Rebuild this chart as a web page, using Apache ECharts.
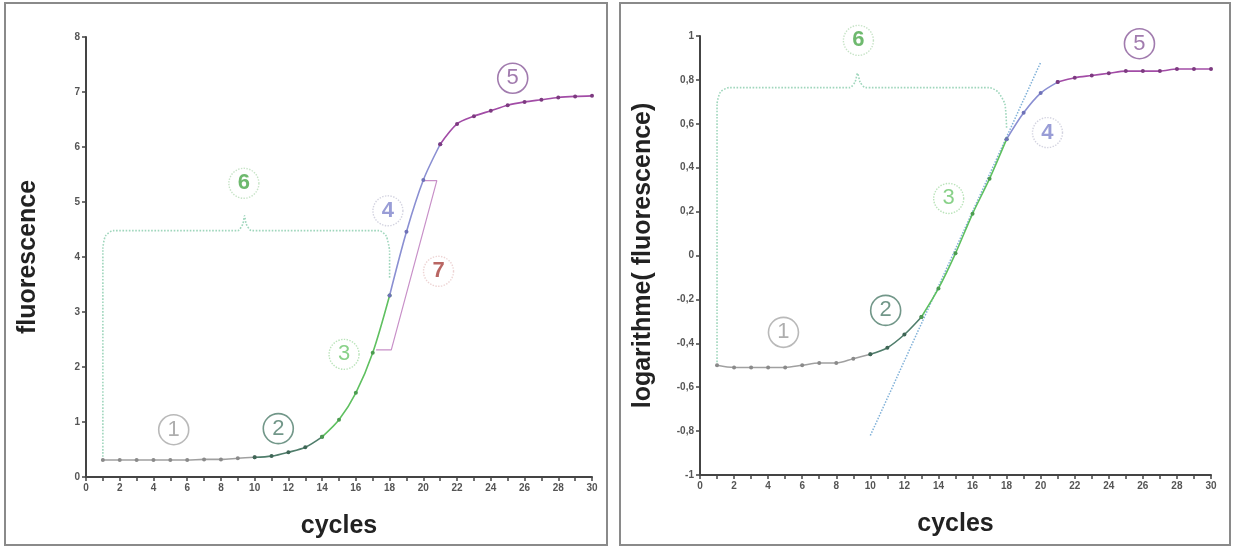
<!DOCTYPE html>
<html>
<head>
<meta charset="utf-8">
<script src="https://cdn.jsdelivr.net/npm/echarts@6/dist/echarts.min.js"></script>
<style>
html,body{margin:0;padding:0;background:#fff;}
#c{width:1235px;height:550px;}
</style>
</head>
<body>
<div id="c"></div>
<script>
// ---- data ----
var cycles = [1,2,3,4,5,6,7,8,9,10,11,12,13,14,15,16,17,18,19,20,21,22,23,24,25,26,27,28,29,30];
var fluorescence = [0.31,0.31,0.31,0.31,0.31,0.31,0.32,0.32,0.34,0.36,0.38,0.45,0.54,0.73,1.04,1.53,2.26,3.30,4.46,5.40,6.05,6.42,6.56,6.66,6.76,6.82,6.86,6.90,6.92,6.93];
var logFluorescence = [-0.50,-0.51,-0.51,-0.51,-0.51,-0.50,-0.49,-0.49,-0.47,-0.45,-0.42,-0.36,-0.28,-0.15,0.01,0.19,0.35,0.53,0.65,0.74,0.79,0.81,0.82,0.83,0.84,0.84,0.84,0.85,0.85,0.85];
var xTicks = [0,2,4,6,8,10,12,14,16,18,20,22,24,26,28,30];
var leftYTicks = ['0','1','2','3','4','5','6','7','8'];
var rightYTicks = ['-1','-0,8','-0,6','-0,4','-0,2','0','0,2','0,4','0,6','0,8','1'];
// phase boundaries (cycle numbers)
var leftPhases = [1,10,14,18,21,30];
var rightPhases = [1,10,13,18,21,30];
var phaseColors = ['#a0a0a0','#4f7d6b','#5fc060','#8a8fd2','#a24ca6'];
var markerColors = ['#8a8a8a','#3e6656','#4c9c50','#6f72b8','#7d3a80'];
// annotations (data coordinates)
var leftLabels = [
  {t:'1', x:5.2, y:0.86, c:'#9a9a9a', b:'#a8a8a8', bt:'solid', w:'normal'},
  {t:'2', x:11.4, y:0.88, c:'#4f7d6b', b:'#4f7d6b', bt:'solid', w:'normal'},
  {t:'3', x:15.3, y:2.23, c:'#6cc56c', b:'#a8dca8', bt:'dotted', w:'normal'},
  {t:'4', x:17.9, y:4.84, c:'#7f84cc', b:'#c8c8d8', bt:'dotted', w:'bold'},
  {t:'5', x:25.3, y:7.25, c:'#8a5a9a', b:'#8a5a9a', bt:'solid', w:'normal'},
  {t:'6', x:9.36, y:5.34, c:'#4aa84a', b:'#b8dcb8', bt:'dotted', w:'bold'},
  {t:'7', x:20.9, y:3.74, c:'#a8403c', b:'#e8c8c8', bt:'dotted', w:'bold'}
];
var rightLabels = [
  {t:'1', x:4.9, y:-0.35, c:'#9a9a9a', b:'#a8a8a8', bt:'solid', w:'normal'},
  {t:'2', x:10.9, y:-0.25, c:'#4f7d6b', b:'#4f7d6b', bt:'solid', w:'normal'},
  {t:'3', x:14.6, y:0.26, c:'#6cc56c', b:'#a8dca8', bt:'dotted', w:'normal'},
  {t:'4', x:20.4, y:0.56, c:'#7f84cc', b:'#c8c8d8', bt:'dotted', w:'bold'},
  {t:'5', x:25.8, y:0.965, c:'#8a5a9a', b:'#8a5a9a', bt:'solid', w:'normal'},
  {t:'6', x:9.3, y:0.98, c:'#4aa84a', b:'#b8dcb8', bt:'dotted', w:'bold'}
];
var leftBrace = [[1,0.31],[1,4.15],[1.15,4.38],[1.6,4.48],[9.0,4.48],[9.3,4.6],[9.4,4.75],[9.5,4.6],[9.8,4.48],[17.4,4.48],[17.8,4.38],[18,4.1],[18,3.6]];
var rightBrace = [[1,-0.5],[1,0.69],[1.2,0.745],[1.7,0.765],[8.8,0.765],[9.1,0.79],[9.25,0.83],[9.4,0.79],[9.7,0.765],[17.0,0.765],[17.5,0.745],[17.9,0.69],[18,0.58]];
var bracket7 = [[17.2,2.31],[18.1,2.31],[20.8,5.39],[20.0,5.39]];
var tangent = [[10,-0.82],[20,0.88]];

// ---- chart ----
var chart = echarts.init(document.getElementById('c'), null, {renderer:'canvas'});
var FONT = '"Liberation Sans", Arial, sans-serif';

function pairs(xs, ys){ return xs.map(function(x,i){ return [x, ys[i]]; }); }

function segSeries(vals, phases, xi, yi){
  var out = [];
  var pts = pairs(cycles, vals);
  for (var p=0;p<5;p++){
    var seg = pts.filter(function(d){ return d[0]>=phases[p] && d[0]<=phases[p+1]; });
    out.push({
      type:'line', xAxisIndex:xi, yAxisIndex:yi, data:seg, smooth:0.3,
      symbol:'circle', symbolSize:4, showSymbol:true,
      lineStyle:{color:phaseColors[p], width:1.6},
      itemStyle:{color:markerColors[p]},
      z:5, silent:true, animation:false
    });
  }
  return out;
}

function labelSeries(list, xi, yi){
  return list.map(function(l){
    return {
      type:'scatter', xAxisIndex:xi, yAxisIndex:yi, data:[[l.x,l.y]],
      symbol:'circle', symbolSize:30, z:8, silent:true, animation:false,
      itemStyle:{color:'rgba(255,255,255,0.9)', borderColor:l.b, borderWidth:l.bt==='solid'?1.6:1.4, borderType:l.bt},
      label:{show:true, position:'inside', formatter:l.t, fontSize:22, fontFamily:FONT, fontWeight:l.w, color:l.c}
    };
  });
}

function dotted(points, xi, yi, color, width, type, smooth){
  return {type:'line', xAxisIndex:xi, yAxisIndex:yi, data:points, symbol:'none', smooth:smooth||false,
    lineStyle:{color:color, width:width, type:type}, z:3, silent:true, animation:false};
}

function xAxisCfg(gi){
  return {
    type:'value', gridIndex:gi, min:0, max:30, interval:2,
    name:'cycles', nameLocation:'middle', nameGap:37,
    nameTextStyle:{fontFamily:FONT, fontSize:25, fontWeight:'bold', color:'#222'},
    axisLine:{show:true, onZero:false, lineStyle:{color:'#444', width:2}},
    axisTick:{show:true, length:4, lineStyle:{color:'#444', width:1.5}},
    minorTick:{show:true, splitNumber:2, length:4, lineStyle:{color:'#444', width:1.5}},
    splitLine:{show:false},
    axisLabel:{fontFamily:FONT, fontSize:10, fontWeight:'bold', color:'#555', margin:6,
      formatter:function(v){ return xTicks.indexOf(v)>=0 ? String(v) : ''; }}
  };
}

var series = [];
series.push(dotted(leftBrace,0,0,'#9fd6bc',1.6,'dotted',0.2));
series.push(dotted(bracket7,0,0,'#c890c8',1.2,'solid'));
series = series.concat(segSeries(fluorescence, leftPhases, 0, 0));
series = series.concat(labelSeries(leftLabels, 0, 0));
series.push(dotted(rightBrace,1,1,'#9fd6bc',1.6,'dotted',0.2));
series.push(dotted(tangent,1,1,'#7fb0d8',1.5,'dotted'));
series = series.concat(segSeries(logFluorescence, rightPhases, 1, 1));
series = series.concat(labelSeries(rightLabels, 1, 1));

chart.setOption({
  backgroundColor:'#ffffff',
  animation:false,
  graphic:[
    {type:'rect', shape:{x:5, y:3, width:602, height:542}, style:{fill:'none', stroke:'#8a8a8a', lineWidth:2}, z:-1},
    {type:'rect', shape:{x:620, y:3, width:610, height:542}, style:{fill:'none', stroke:'#8a8a8a', lineWidth:2}, z:-1}
  ],
  grid:[
    {left:86, right:643, top:37, bottom:73},
    {left:700, right:24, top:36, bottom:75}
  ],
  xAxis:[xAxisCfg(0), xAxisCfg(1)],
  yAxis:[
    {type:'value', gridIndex:0, min:0, max:8, interval:1,
     name:'fluorescence', nameLocation:'middle', nameGap:45,
     nameTextStyle:{fontFamily:FONT, fontSize:25, fontWeight:'bold', color:'#222'},
     axisLine:{show:true, onZero:false, lineStyle:{color:'#444', width:2}},
     axisTick:{show:true, length:4, lineStyle:{color:'#444', width:1.5}},
     splitLine:{show:false},
     axisLabel:{fontFamily:FONT, fontSize:10, fontWeight:'bold', color:'#555', margin:6,
       formatter:function(v){ return leftYTicks[Math.round(v)]; }}},
    {type:'value', gridIndex:1, min:-1, max:1, interval:0.2,
     name:'logarithme( fluorescence)', nameLocation:'middle', nameGap:44,
     nameTextStyle:{fontFamily:FONT, fontSize:25, fontWeight:'bold', color:'#222'},
     axisLine:{show:true, onZero:false, lineStyle:{color:'#444', width:2}},
     axisTick:{show:true, length:4, lineStyle:{color:'#444', width:1.5}},
     splitLine:{show:false},
     axisLabel:{fontFamily:FONT, fontSize:10, fontWeight:'bold', color:'#555', margin:6,
       formatter:function(v){ return rightYTicks[Math.round((v+1)*5)]; }}}
  ],
  series:series
});
</script>
</body>
</html>
